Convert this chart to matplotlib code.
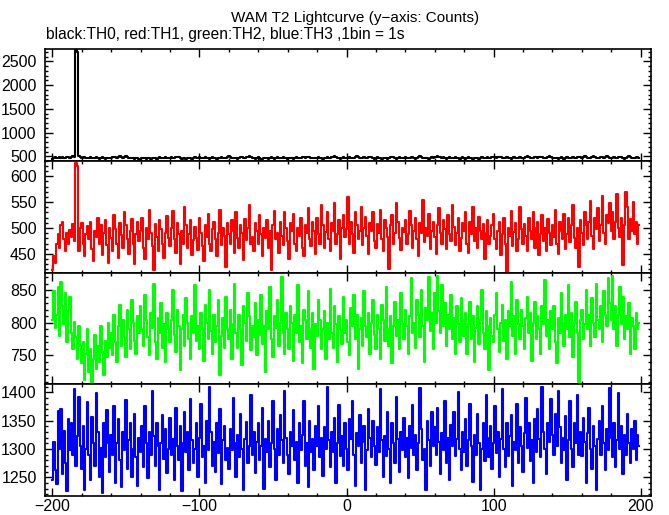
import numpy as np
import matplotlib
matplotlib.use('Agg')
from matplotlib import pyplot as plt
from matplotlib.ticker import MultipleLocator

# 1 s bins, t = -200 ... 199 s
time = np.arange(-200, 200)

# TH0 (black)
th0 = [
    455, 468, 480, 462, 475, 490, 472, 484, 466, 478, 495, 482, 470, 488, 500, 492, 2740, 2705, 505, 488,
    478, 495, 482, 470, 462, 475, 488, 470, 458, 472, 485, 468, 455, 470, 482, 465, 450, 462, 476, 460,
    472, 486, 498, 482, 470, 490, 502, 488, 475, 492, 505, 486, 472, 460, 475, 458, 445, 462, 470, 455,
    448, 462, 475, 460, 445, 458, 470, 452, 465, 478, 462, 450, 468, 482, 470, 458, 472, 485, 470, 462,
    475, 490, 478, 465, 482, 495, 480, 468, 455, 470, 462, 448, 460, 475, 465, 452, 468, 480, 466, 475,
    488, 472, 460, 475, 490, 478, 465, 452, 468, 482, 470, 458, 445, 460, 472, 485, 470, 458, 475, 488,
    500, 485, 472, 460, 475, 462, 450, 465, 480, 492, 478, 465, 482, 495, 510, 492, 478, 465, 455, 470,
    482, 468, 455, 442, 460, 475, 462, 450, 468, 480, 466, 455, 472, 488, 475, 462, 478, 490, 475, 460,
    448, 465, 478, 465, 452, 470, 485, 472, 460, 475, 492, 480, 468, 482, 498, 485, 470, 458, 472, 462,
    475, 488, 472, 460, 448, 462, 475, 490, 478, 465, 480, 495, 508, 490, 476, 462, 450, 465, 480, 470,
    458, 472, 488, 475, 462, 478, 492, 505, 488, 472, 460, 475, 490, 478, 466, 482, 495, 482, 468, 455,
    470, 485, 472, 458, 445, 462, 478, 465, 452, 468, 482, 495, 480, 468, 455, 472, 486, 470, 458, 475,
    490, 476, 462, 478, 492, 480, 466, 452, 468, 485, 500, 485, 470, 458, 472, 462, 450, 466, 480, 468,
    482, 498, 512, 495, 480, 468, 482, 470, 456, 472, 488, 475, 462, 478, 492, 478, 465, 452, 468, 480,
    466, 455, 470, 485, 472, 460, 448, 465, 478, 465, 452, 468, 485, 470, 458, 475, 490, 478, 465, 480,
    495, 480, 468, 482, 498, 485, 472, 460, 475, 490, 478, 465, 452, 468, 482, 470, 458, 472, 488, 475,
    462, 476, 492, 506, 490, 475, 462, 478, 492, 480, 466, 480, 496, 482, 470, 458, 472, 486, 500, 486,
    472, 460, 474, 462, 450, 465, 480, 468, 455, 470, 485, 472, 460, 476, 490, 478, 465, 480, 495, 482,
    470, 485, 500, 488, 475, 462, 478, 492, 506, 490, 476, 462, 478, 494, 482, 470, 485, 500, 486, 472,
    460, 476, 490, 478, 465, 480, 495, 482, 468, 455, 470, 486, 500, 488, 475, 462, 478, 492, 480, 470,
]

# TH1 (red)
th1 = [
    418, 445, 432, 470, 488, 462, 505, 512, 478, 455, 490, 470, 497, 482, 508, 475, 626, 619, 455, 500,
    510, 470, 445, 488, 503, 478, 512, 460, 437, 495, 482, 520, 470, 505, 447, 490, 515, 468, 432, 500,
    480, 455, 525, 498, 470, 442, 510, 487, 462, 530, 505, 478, 450, 495, 518, 470, 430, 488, 512, 475,
    495, 520, 462, 440, 500, 478, 535, 490, 465, 418, 507, 482, 455, 515, 498, 470, 442, 490, 523, 480,
    465, 500, 532, 478, 452, 510, 488, 430, 495, 470, 540, 505, 462, 488, 515, 448, 476, 502, 480, 458,
    520, 490, 465, 437, 505, 482, 528, 470, 455, 498, 512, 478, 445, 490, 535, 468, 500, 485, 425, 510,
    488, 470, 515, 495, 452, 530, 480, 462, 505, 490, 438, 518, 477, 500, 545, 470, 482, 455, 510, 495,
    470, 525, 488, 445, 500, 480, 515, 462, 495, 418, 505, 532, 478, 490, 452, 512, 485, 468, 530, 500,
    475, 440, 510, 495, 528, 470, 455, 500, 485, 520, 462, 445, 505, 490, 538, 478, 465, 512, 495, 450,
    520, 488, 470, 545, 505, 462, 492, 530, 478, 455, 510, 495, 548, 470, 488, 515, 440, 500, 525, 482,
    498, 560, 470, 512, 488, 452, 530, 505, 478, 495, 540, 468, 500, 522, 485, 450, 510, 495, 530, 475,
    462, 508, 490, 535, 478, 455, 515, 500, 482, 420, 505, 525, 470, 490, 548, 512, 480, 458, 500, 492,
    515, 470, 488, 532, 505, 462, 495, 520, 478, 445, 510, 490, 555, 472, 500, 485, 528, 460, 495, 512,
    482, 450, 505, 538, 490, 470, 515, 498, 460, 525, 488, 475, 545, 502, 468, 490, 520, 455, 480, 510,
    495, 530, 470, 452, 512, 488, 540, 475, 500, 462, 522, 495, 478, 508, 440, 490, 515, 470, 485, 505,
    528, 478, 460, 495, 512, 448, 488, 520, 470, 415, 500, 485, 532, 465, 492, 510, 455, 478, 540, 498,
    470, 508, 485, 455, 520, 495, 478, 530, 462, 500, 512, 448, 488, 525, 475, 500, 455, 518, 490, 468,
    505, 482, 535, 470, 450, 512, 495, 478, 528, 460, 488, 520, 472, 505, 545, 480, 462, 500, 425, 515,
    490, 468, 530, 505, 478, 512, 552, 485, 460, 520, 498, 538, 475, 505, 562, 490, 470, 525, 510, 548,
    495, 530, 478, 512, 565, 500, 482, 520, 428, 505, 570, 540, 478, 518, 495, 550, 488, 512, 470, 505,
]

# TH2 (green)
th2 = [
    805, 848, 792, 812, 855, 780, 862, 825, 798, 845, 770, 818, 840, 785, 760, 802, 778, 745, 795, 765,
    738, 770, 712, 752, 790, 725, 760, 708, 745, 782, 730, 765, 740, 795, 755, 720, 772, 748, 800, 762,
    785, 750, 812, 770, 740, 795, 828, 765, 805, 778, 748, 820, 790, 760, 835, 800, 772, 752, 810, 785,
    825, 790, 765, 842, 805, 778, 750, 815, 792, 860, 770, 745, 808, 785, 830, 762, 798, 740, 815, 790,
    770, 805, 850, 782, 755, 820, 795, 728, 790, 812, 765, 838, 800, 775, 745, 810, 785, 858, 772, 795,
    760, 815, 790, 742, 828, 800, 775, 850, 788, 752, 812, 770, 795, 835, 720, 780, 808, 762, 840, 790,
    775, 820, 745, 798, 860, 785, 762, 812, 790, 735, 825, 800, 772, 845, 810, 758, 795, 778, 830, 750,
    805, 782, 842, 768, 795, 725, 818, 790, 855, 775, 748, 810, 792, 835, 765, 800, 870, 785, 752, 815,
    790, 760, 825, 800, 742, 812, 785, 858, 770, 795, 738, 820, 805, 775, 848, 790, 762, 815, 730, 798,
    780, 835, 805, 760, 790, 818, 745, 800, 775, 852, 785, 762, 825, 798, 740, 810, 790, 768, 840, 785,
    805, 770, 750, 822, 795, 842, 775, 812, 730, 790, 808, 765, 848, 795, 778, 815, 752, 800, 835, 782,
    760, 812, 790, 745, 828, 805, 772, 855, 790, 765, 810, 738, 795, 832, 780, 805, 760, 845, 798, 775,
    820, 795, 752, 810, 868, 785, 800, 762, 835, 812, 778, 850, 795, 740, 822, 805, 870, 788, 815, 760,
    845, 800, 872, 818, 785, 858, 795, 830, 765, 812, 790, 842, 775, 808, 752, 825, 798, 770, 838, 805,
    780, 815, 752, 798, 832, 775, 810, 740, 792, 825, 768, 805, 850, 785, 760, 818, 795, 728, 808, 780,
    770, 812, 845, 790, 755, 800, 828, 772, 805, 745, 818, 795, 862, 780, 810, 752, 835, 798, 775, 820,
    795, 760, 808, 840, 785, 815, 742, 800, 832, 775, 810, 790, 752, 825, 798, 865, 780, 805, 760, 818,
    790, 825, 770, 738, 808, 785, 845, 800, 765, 812, 790, 858, 778, 815, 748, 800, 832, 785, 710, 805,
    820, 775, 798, 850, 790, 812, 765, 838, 800, 778, 860, 805, 790, 825, 770, 848, 812, 795, 868, 830,
    805, 872, 790, 825, 765, 812, 855, 798, 840, 775, 810, 790, 830, 752, 808, 795, 760, 815, 790, 800,
]

# TH3 (blue)
th3 = [
    1245, 1312, 1262, 1238, 1366, 1300, 1370, 1255, 1332, 1275, 1226, 1352, 1298, 1345, 1290, 1406, 1270, 1322, 1392, 1305,
    1265, 1340, 1228, 1300, 1382, 1290, 1246, 1356, 1310, 1270, 1398, 1330, 1250, 1302, 1222, 1345, 1285, 1368, 1310, 1260,
    1325, 1290, 1376, 1240, 1310, 1352, 1280, 1232, 1330, 1298, 1386, 1265, 1315, 1345, 1250, 1300, 1362, 1285, 1235, 1320,
    1295, 1340, 1268, 1375, 1310, 1248, 1330, 1290, 1402, 1322, 1270, 1345, 1305, 1228, 1310, 1360, 1282, 1335, 1258, 1300,
    1355, 1290, 1318, 1245, 1372, 1305, 1280, 1340, 1225, 1310, 1365, 1295, 1330, 1262, 1388, 1315, 1275, 1300, 1345, 1250,
    1320, 1380, 1285, 1305, 1240, 1350, 1298, 1410, 1330, 1270, 1312, 1260, 1345, 1292, 1370, 1238, 1315, 1340, 1280, 1302,
    1265, 1335, 1298, 1390, 1310, 1250, 1325, 1285, 1362, 1300, 1228, 1318, 1348, 1275, 1305, 1395, 1290, 1330, 1258, 1312,
    1345, 1280, 1305, 1372, 1230, 1318, 1295, 1350, 1268, 1310, 1385, 1300, 1245, 1335, 1290, 1360, 1315, 1275, 1402, 1320,
    1290, 1255, 1330, 1305, 1368, 1280, 1312, 1240, 1345, 1298, 1325, 1385, 1270, 1310, 1232, 1350, 1295, 1318, 1262, 1340,
    1305, 1375, 1285, 1320, 1252, 1338, 1300, 1410, 1315, 1268, 1330, 1295, 1355, 1240, 1310, 1378, 1288, 1322, 1270, 1345,
    1300, 1262, 1352, 1318, 1385, 1290, 1235, 1328, 1305, 1360, 1275, 1312, 1340, 1228, 1298, 1370, 1320, 1285, 1350, 1305,
    1272, 1338, 1295, 1405, 1315, 1250, 1322, 1288, 1365, 1300, 1240, 1345, 1310, 1275, 1392, 1318, 1260, 1330, 1298, 1355,
    1285, 1320, 1248, 1340, 1302, 1378, 1290, 1325, 1262, 1310, 1408, 1335, 1280, 1300, 1228, 1350, 1315, 1270, 1365, 1305,
    1338, 1290, 1372, 1312, 1255, 1328, 1298, 1385, 1275, 1320, 1245, 1342, 1305, 1365, 1288, 1318, 1400, 1300, 1262, 1330,
    1295, 1352, 1270, 1315, 1380, 1305, 1242, 1325, 1290, 1362, 1310, 1228, 1300, 1345, 1278, 1395, 1320, 1285, 1340, 1265,
    1310, 1375, 1292, 1330, 1250, 1318, 1405, 1300, 1268, 1345, 1288, 1322, 1360, 1235, 1312, 1298, 1380, 1275, 1338, 1305,
    1260, 1328, 1390, 1302, 1345, 1278, 1315, 1240, 1352, 1295, 1370, 1318, 1285, 1410, 1330, 1300, 1255, 1345, 1312, 1388,
    1325, 1290, 1362, 1305, 1402, 1338, 1275, 1320, 1298, 1358, 1245, 1315, 1385, 1300, 1268, 1345, 1310, 1395, 1290, 1330,
    1288, 1355, 1312, 1240, 1328, 1372, 1300, 1265, 1340, 1305, 1228, 1318, 1350, 1290, 1375, 1310, 1262, 1335, 1298, 1408,
    1320, 1285, 1345, 1268, 1315, 1398, 1300, 1340, 1255, 1325, 1290, 1362, 1310, 1275, 1335, 1300, 1350, 1280, 1325, 1305,
]

series = [th0, th1, th2, th3]
colors = ['black', '#ff0000', '#00ff00', '#0000ff']
ylims = [(410, 2760), (414, 630), (706, 877), (1217, 1414)]
major = [500, 50, 50, 50]
minor = [100, 10, 10, 10]

plt.rcParams['font.family'] = 'Liberation Sans'

fig = plt.figure(figsize=(6.69, 5.15), dpi=100)
left, right = 45 / 669., 651 / 669.
top, bottom = 1 - 49 / 515., 1 - 496 / 515.
h = (top - bottom) / 4.

for i, (y, c) in enumerate(zip(series, colors)):
    assert len(y) == len(time)
    ax = fig.add_axes([left, top - (i + 1) * h, right - left, h])
    ax.plot(time, y, color=c, lw=1.5, drawstyle='steps-mid')
    ax.set_xlim(-205, 207)
    ax.set_ylim(*ylims[i])
    ax.xaxis.set_major_locator(MultipleLocator(100))
    ax.xaxis.set_minor_locator(MultipleLocator(20))
    ax.yaxis.set_major_locator(MultipleLocator(major[i]))
    ax.yaxis.set_minor_locator(MultipleLocator(minor[i]))
    ax.tick_params(which='both', direction='in', top=True, right=True,
                   labelsize=11.5, width=1.0)
    ax.tick_params(axis='y', pad=6)
    ax.tick_params(axis='x', pad=2)
    ax.tick_params(which='major', length=5.5)
    ax.tick_params(which='minor', length=2.5)
    if i < 3:
        ax.tick_params(labelbottom=False)
    for s in ax.spines.values():
        s.set_linewidth(1.2)

fig.text(355 / 669., 1 - 18 / 515., 'WAM T2 Lightcurve (y\u2212axis: Counts)',
         ha='center', va='center', fontsize=11)
fig.text(left + 0.002, 1 - 35 / 515., 'black:TH0, red:TH1, green:TH2, blue:TH3 ,1bin = 1s',
         ha='left', va='center', fontsize=11.2)

fig.savefig('out.png', dpi=100)
